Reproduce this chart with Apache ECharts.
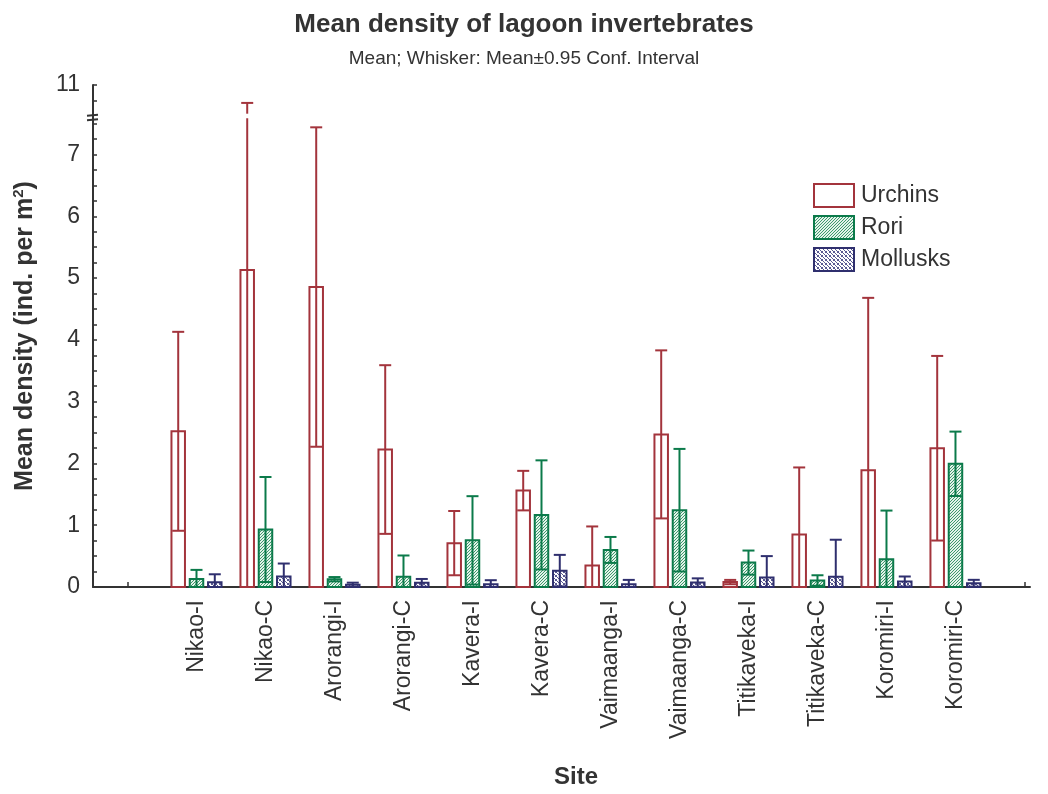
<!DOCTYPE html>
<html><head><meta charset="utf-8">
<script src="https://cdn.jsdelivr.net/npm/echarts@6/dist/echarts.min.js"></script>
<style>html,body{margin:0;padding:0;background:#fff}#c{width:1048px;height:794px}</style>
</head><body><div id="c"></div>
<script>
// ---- data ----
const sites = ['Nikao-I','Nikao-C','Arorangi-I','Arorangi-C','Kavera-I','Kavera-C','Vaimaanga-I','Vaimaanga-C','Titikaveka-I','Titikaveka-C','Koromiri-I','Koromiri-C'];
const urchinsMean  = [2.52, 5.13, 4.855, 2.225, 0.71, 1.56, 0.35, 2.47, 0.08, 0.85, 1.89, 2.246];
const urchinsCI    = [1.61, 5.58, 2.585, 1.365, 0.52, 0.32, 0.63, 1.36, 0.035, 1.085, 2.79, 1.494];
const roriMean     = [0.13, 0.93, 0.126, 0.164, 0.755, 1.167, 0.60, 1.243, 0.395, 0.105, 0.448, 1.994];
const roriCI       = [0.147, 0.85, 0.035, 0.346, 0.715, 0.883, 0.21, 0.992, 0.195, 0.085, 0.789, 0.521];
const mollusksMean = [0.077, 0.17, 0.035, 0.067, 0.045, 0.265, 0.045, 0.072, 0.153, 0.164, 0.089, 0.061];
const mollusksCI   = [0.129, 0.21, 0.035, 0.063, 0.065, 0.255, 0.07, 0.068, 0.347, 0.601, 0.081, 0.055];
const yLabelValues = [0, 1, 2, 3, 4, 5, 6, 7, 11];
const yUpperTicks  = [10.75, 11];

// ---- broken axis: 0..BREAK_LO shown linearly, then jump to BREAK_HI ----
const BREAK_LO = 7.62, BREAK_HI = 10.495, SHIFT = BREAK_HI - BREAK_LO;
function ty(v){ return v >= BREAK_HI ? v - SHIFT : Math.min(v, BREAK_LO); }
function inv(t){ return t > BREAK_LO + 1e-6 ? t + SHIFT : t; }

const yTicks = [];
for (let v = 0; v <= 7.5 + 1e-9; v += 0.25) yTicks.push(+v.toFixed(2));
yUpperTicks.forEach(v => yTicks.push(ty(v)));
const yLabels = yLabelValues.map(ty);

function tile(bg, fg, pts, n){
  const c = document.createElement('canvas'); c.width = c.height = n;
  const g = c.getContext('2d'); g.fillStyle = bg; g.fillRect(0,0,n,n);
  g.fillStyle = fg; pts.forEach(p => g.fillRect(p[0], p[1], 1, 1));
  return {image: c, repeat: 'repeat'};
}
const roriFill = tile('#e4f2ea', '#3d9a6c', [[0,2],[1,1],[2,0]], 3);
const mollFill = tile('#ffffff', '#5a5a92', [[0,0],[1,1],[2,2],[3,3],[3,0],[0,3]], 4);

const FONT = 'Liberation Sans, Arial, Helvetica, sans-serif';
const TXT = '#333333';
const OFFSET = 0.265;

function makeSeries(name, idx, means, cis, stroke, fill){
  return {
    type: 'custom', name, coordinateSystem: 'cartesian2d', clip: false,
    itemStyle: {color: fill, borderColor: stroke, borderWidth: 2},
    data: means.map((m, i) => [i + 1, m, cis[i]]),
    encode: {x: 0, y: 1},
    renderItem(params, api){
      const p = api.value(0) + idx * OFFSET, m = api.value(1), ci = api.value(2);
      const base = api.coord([p, 0]);
      const top = api.coord([p, ty(m)]);
      const cx = base[0], bw = 13.5, cap = 12;
      const hi = m + ci, lo = Math.max(0, m - ci);
      const yHi = api.coord([p, ty(hi)])[1], yLo = api.coord([p, ty(lo)])[1];
      const yBr = api.coord([p, BREAK_LO])[1];
      const ls = {stroke, lineWidth: 2};
      const ch = [{type: 'rect', shape: {x: cx - bw/2, y: top[1], width: bw, height: base[1] - top[1]},
                   style: {fill, stroke, lineWidth: 2}}];
      if (hi > BREAK_LO) {
        ch.push({type: 'line', shape: {x1: cx, y1: yLo, x2: cx, y2: yBr + 2}, style: ls});
        ch.push({type: 'line', shape: {x1: cx, y1: yBr - 2.5, x2: cx, y2: yHi}, style: ls});
      } else {
        ch.push({type: 'line', shape: {x1: cx, y1: yLo, x2: cx, y2: yHi}, style: ls});
      }
      ch.push({type: 'line', shape: {x1: cx - cap/2, y1: yHi, x2: cx + cap/2, y2: yHi}, style: ls});
      if (lo > 0) ch.push({type: 'line', shape: {x1: cx - cap/2, y1: yLo, x2: cx + cap/2, y2: yLo}, style: ls});
      return {type: 'group', children: ch};
    }
  };
}

const breakSeries = {
  type: 'custom', name: 'break', coordinateSystem: 'cartesian2d', clip: false, silent: true,
  data: [[-0.5, BREAK_LO]], encode: {x: 0, y: 1}, z: 5,
  renderItem(params, api){
    const pt = api.coord([api.value(0), api.value(1)]);
    const st = {stroke: '#333', lineWidth: 2};
    return {type: 'group', children: [
      {type: 'line', shape: {x1: pt[0] - 6, y1: pt[1] - 0.5, x2: pt[0] + 5, y2: pt[1] - 1.5}, style: st},
      {type: 'line', shape: {x1: pt[0] - 6, y1: pt[1] + 4, x2: pt[0] + 5, y2: pt[1] + 3}, style: st}
    ]};
  }
};

const chart = echarts.init(document.getElementById('c'), null, {renderer: 'canvas'});
chart.setOption({
  backgroundColor: '#fff',
  animation: false,
  textStyle: {fontFamily: FONT, color: TXT},
  title: {
    text: 'Mean density of lagoon invertebrates',
    subtext: 'Mean; Whisker: Mean\u00b10.95 Conf. Interval',
    left: 519, textAlign: 'center', top: 7, itemGap: 11,
    textStyle: {fontFamily: FONT, fontSize: 26, fontWeight: 'bold', color: TXT},
    subtextStyle: {fontFamily: FONT, fontSize: 19, color: TXT}
  },
  legend: {
    orient: 'vertical', left: 813, top: 183, padding: 0,
    itemWidth: 40, itemHeight: 23, itemGap: 7, icon: 'rect',
    data: ['Urchins', 'Rori', 'Mollusks'],
    textStyle: {fontFamily: FONT, fontSize: 23, color: TXT, padding: [0,0,0,2]}
  },
  grid: {left: 93, right: 18, top: 85, bottom: 204.5, containLabel: false},
  xAxis: {
    type: 'value', min: -0.5, max: 13.08,
    name: 'Site', nameLocation: 'middle', nameGap: 178,
    nameTextStyle: {fontFamily: FONT, fontSize: 24, fontWeight: 'bold', color: TXT, padding: [0,0,0,29]},
    axisLine: {show: true, onZero: false, lineStyle: {color: '#333', width: 2}},
    axisTick: {show: true, inside: true, length: 5, lineStyle: {color: '#333', width: 1.5},
               customValues: [0,1,2,3,4,5,6,7,8,9,10,11,12,13]},
    axisLabel: {show: true, rotate: 90, margin: 13, fontSize: 23, color: TXT, fontFamily: FONT,
                customValues: sites.map((s, i) => i + 1),
                formatter: v => sites[Math.round(v) - 1] || ''},
    splitLine: {show: false}
  },
  yAxis: {
    type: 'value', min: 0, max: ty(11),
    name: '{b|Mean density (ind. per m}{s|2}{b|)}', nameLocation: 'middle', nameGap: 54,
    nameTextStyle: {rich: {
      b: {fontFamily: FONT, fontSize: 25, fontWeight: 'bold', color: TXT},
      s: {fontFamily: FONT, fontSize: 15, fontWeight: 'bold', color: TXT, padding: [0,0,13,0]}
    }},
    axisLine: {show: true, onZero: false, lineStyle: {color: '#333', width: 2}},
    axisTick: {show: true, inside: true, length: 4, lineStyle: {color: '#333', width: 1.5},
               customValues: yTicks},
    axisLabel: {show: true, margin: 13, fontSize: 23, color: TXT, fontFamily: FONT,
                customValues: yLabels,
                formatter: v => String(Math.round(inv(v)))},
    splitLine: {show: false}
  },
  series: [
    makeSeries('Urchins', -1, urchinsMean, urchinsCI, '#a3343c', '#ffffff'),
    makeSeries('Rori', 0, roriMean, roriCI, '#0b7a4a', roriFill),
    makeSeries('Mollusks', 1, mollusksMean, mollusksCI, '#2f2f6e', mollFill),
    breakSeries
  ]
});
</script></body></html>
